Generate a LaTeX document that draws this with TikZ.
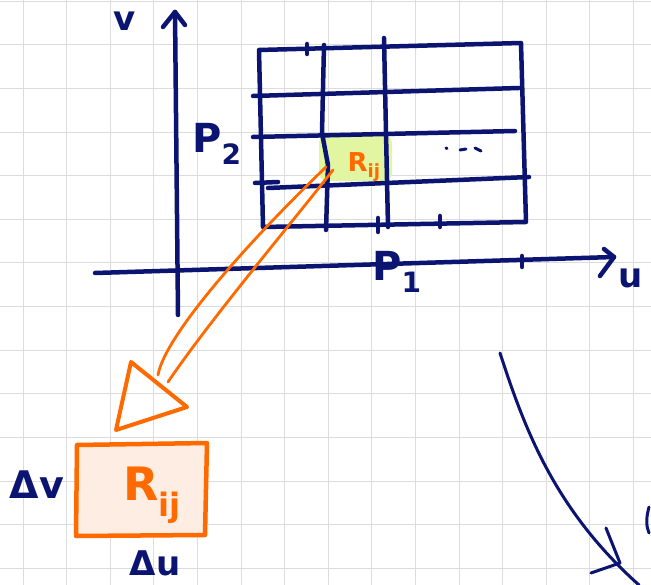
\documentclass[tikz,border=0pt]{standalone}
\usepackage{fontspec}
\setsansfont{DejaVu Sans}
\definecolor{navy}{HTML}{0B1470}
\definecolor{orng}{HTML}{FF6A00}
\definecolor{gridc}{HTML}{DCDCDC}
\definecolor{lime}{HTML}{E2F6A2}
\definecolor{peach}{HTML}{FDEDE3}
\begin{document}
\begin{tikzpicture}[x=1pt,y=-1pt,
  pen/.style={navy,line width=4.5pt,line cap=round,line join=round},
  open/.style={orng,line width=2.8pt,line cap=round,line join=round},
  lbl/.style={navy,font=\sffamily\bfseries\fontsize{34}{34}\selectfont,inner sep=0pt},
  olbl/.style={orng,font=\sffamily\bfseries\fontsize{26}{26}\selectfont,inner sep=0pt}]
\useasboundingbox (0,0) rectangle (651,585);
\fill[white] (0,0) rectangle (651,585);
% grid paper
\foreach \i in {0,...,14} \draw[gridc,line width=1pt] ({23+43.6*\i},0) -- ({23+43.6*\i},585);
\foreach \j in {0,...,13} \draw[gridc,line width=1pt] (0,{1.4+43.6*\j}) -- (651,{1.4+43.6*\j});
% highlighted cell
\fill[lime,rounded corners=8pt] (319,135) rectangle (392,181);
% axes
\coordinate (yb) at (178,315); \coordinate (yt) at (175,12);
\coordinate (xl) at (95,273); \coordinate (xr) at (614,257);
\draw[pen] (yb) -- (yt);
\draw[pen] (163,27) -- (yt) -- (185,25);
\draw[pen] (xl) -- (xr);
\draw[pen] (604,249) -- (xr) -- (600,276);
\node[lbl] (v) at (125,21) {v};
\node[lbl] (u) at (631,278) {u};
\node[lbl,font=\sffamily\bfseries\fontsize{40}{40}\selectfont] (p2) at (217,144) {P\textsubscript{2}};
\node[lbl,font=\sffamily\bfseries\fontsize{40}{40}\selectfont] (p1) at (397,272) {P\textsubscript{1}};
% partition grid
\coordinate (r1) at (259,50); \coordinate (r2) at (521,43);
\coordinate (r3) at (526,222); \coordinate (r4) at (263,227);
\draw[pen] (r1) -- (r2) -- (r3) -- (r4) -- cycle;
\draw[pen] (324,45) -- (322,133) -- (328,165) -- (326,230);
\draw[pen] (384,38) -- (388,227);
\draw[pen] (253,96) -- (519,88);
\draw[pen] (253,137) -- (515,131);
\draw[pen] (255,183) -- (278,182);
\draw[pen] (268,188) -- (529,177);
% ticks
\draw[pen] (307,44) -- (307,54);
\draw[pen] (378,218) -- (378,232);
\draw[pen] (440,216) -- (440,227);
\draw[pen] (522,256) -- (522,267);
% dots
\draw[navy,line width=3pt,line cap=round] (446,148) -- (447,148.5) (460,150) -- (466,149) (475,148) -- (481,151);
\node[olbl] (rij) at (364,167) {R\textsubscript{ij}};
% orange arrow
\coordinate (a1) at (326,167); \coordinate (a2) at (158,375);
\coordinate (b1) at (333,170); \coordinate (b2) at (168,382);
\draw[open] (a1) .. controls (250,240) and (165,335) .. (a2);
\draw[open] (b1) .. controls (290,225) and (210,320) .. (b2);
\draw[orng,line width=4pt,line join=round,line cap=round] (131,362) -- (187,407) -- (116,430) -- cycle;
% small box
\draw[orng,fill=peach,line width=4.5pt,line join=round] (77,445) -- (207,443) -- (205,535) -- (76,536) -- cycle;
\node[olbl,font=\sffamily\bfseries\fontsize{46}{46}\selectfont] (rbox) at (152,495) {R\textsubscript{ij}};
\node[lbl,font=\sffamily\bfseries\fontsize{38}{38}\selectfont] (dv) at (37,485) {Δv};
\node[lbl,font=\sffamily\bfseries\fontsize{34}{34}\selectfont] (du) at (155,563) {Δu};
% curved arrow
\coordinate (c1) at (500,353); \coordinate (c2) at (639,585);
\draw[pen,line width=3pt] (c1) .. controls (525,430) and (555,510) .. (c2);
\draw[pen,line width=3pt] (606,528) -- (620,563) -- (591,573);
\draw[pen,line width=3pt] (649,507) .. controls (646,518) and (646,526) .. (649,533);
\end{tikzpicture}
\end{document}
